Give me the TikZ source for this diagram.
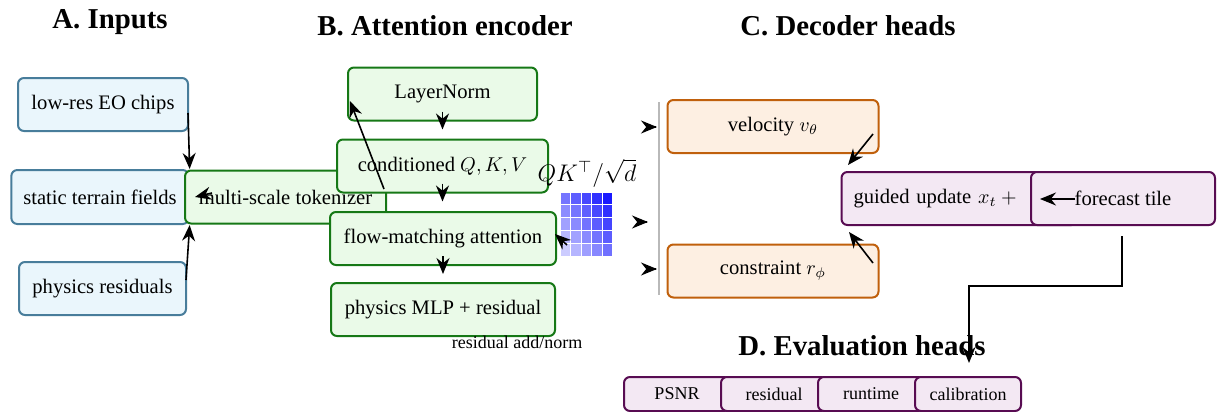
\documentclass[tikz,border=0pt]{standalone}
\usepackage{amsmath}
\usepackage{fontspec}
\setmainfont{LiberationSerif}[Extension=.ttf, UprightFont=*-Regular,
  BoldFont=*-Bold, ItalicFont=*-Italic, BoldItalicFont=*-BoldItalic]
\usepackage{tikz}
\usetikzlibrary{arrows.meta, positioning}
\definecolor{inblue}{RGB}{234, 246, 252}
\definecolor{inborder}{RGB}{72, 125, 155}
\definecolor{encgreen}{RGB}{234, 250, 232}
\definecolor{encborder}{RGB}{22, 120, 22}
\definecolor{decorange}{RGB}{253, 239, 226}
\definecolor{decborder}{RGB}{192, 96, 12}
\definecolor{headpurple}{RGB}{243, 232, 243}
\definecolor{headborder}{RGB}{88, 12, 82}

\begin{document}
\begin{tikzpicture}[
  x=0.5pt, y=-0.5pt,
  panel/.style={font=\Large\bfseries},
  basebox/.style={rectangle, rounded corners=3pt, line width=1pt,
                  minimum height=26.5pt, inner xsep=6pt,
                  font=\fontsize{10.3}{12}\selectfont},
  inbox/.style={basebox, draw=inborder, fill=inblue},
  encbox/.style={basebox, draw=encborder, fill=encgreen},
  decbox/.style={basebox, draw=decborder, fill=decorange, minimum width=105.5pt},
  headbox/.style={basebox, draw=headborder, fill=headpurple},
  evalbox/.style={headbox, minimum width=53pt, minimum height=17pt,
                  font=\small},
  arrow/.style={-{Stealth[length=8pt, width=6.5pt]}, line width=0.8pt, color=black},
  note/.style={font=\small}
]
  \useasboundingbox (0,0) rectangle (1227,412);

  \node[panel] (titleA) at (110,22)  {A. Inputs};
  \node[panel] (titleB) at (445,26)  {B. Attention encoder};
  \node[panel] (titleC) at (848,26)  {C. Decoder heads};
  \node[panel] (titleD) at (862,346) {D. Evaluation heads};

  \node[inbox, minimum width=85pt]   (lowres)  at (103,104.5) {low-res EO chips};
  \node[inbox, minimum width=87pt, minimum height=27pt] (static) at (100,197) {static terrain fields};
  \node[inbox, minimum width=83.5pt] (physres) at (102.5,288.5) {physics residuals};

  \node[encbox, minimum width=100.5pt] (tokenizer) at (285.5,197)  {multi-scale tokenizer};
  \node[encbox, minimum width=94.5pt]  (layernorm) at (442.5,94)   {LayerNorm};
  \node[encbox, minimum width=105.5pt] (qkv)       at (442.5,166)  {conditioned $Q, K, V$};
  \node[encbox, minimum width=113pt]   (flowatt)   at (443,238.5)  {flow-matching attention};
  \node[encbox, minimum width=112pt]   (mlp)       at (443,309.5)  {physics MLP + residual};
  \node[note] (addnorm) at (517,342) {residual add/norm};

  \foreach \r in {0,...,4} {
    \foreach \c in {0,...,4} {
      \pgfmathtruncatemacro\shade{20+9*\c+8.5*(4-\r)}
      \fill[blue!\shade, draw=white, line width=0.5pt]
        (560+10.5*\c,192+12.9*\r) rectangle ++(10.5,12.9);
    }
  }
  \node[font=\large] (scorelbl) at (587,173) {$QK^{\top}/\sqrt{d}$};

  \draw[gray!55, line width=0.6pt] (659,102) -- (659,295);

  \node[decbox] (velocity)   at (773,126.5) {velocity $v_\theta$};
  \node[decbox] (constraint) at (773,271)   {constraint $r_\phi$};

  \node[headbox, minimum width=117.5pt, text width=106pt, align=left] (guided) at (959.5,198.5) {guided update $x_t +{}$};
  \node[headbox, minimum width=92pt] (forecast) at (1123,198.5) {forecast tile};

  \node[evalbox] (psnr)     at (677,394) {PSNR};
  \node[evalbox] (evresid)  at (774,394) {residual};
  \node[evalbox] (runtime)  at (871,394) {runtime};
  \node[evalbox] (calib)    at (968,394) {calibration};

  \coordinate (lowtail)  at (188,113);
  \coordinate (phystail) at (186,280);
  \coordinate (toktail)  at (212,193);
  \coordinate (toktip)   at (195,197);
  \coordinate (lntail)   at (384,189);
  \coordinate (lntip)    at (350,101);
  \coordinate (maptail)  at (567,245);
  \coordinate (maptip)   at (555,234);
  \coordinate (tipv)     at (657,127);
  \coordinate (tipm)     at (648,222);
  \coordinate (tipc)     at (657,269);
  \coordinate (veltail)  at (873,134);
  \coordinate (veltip)   at (848,165);
  \coordinate (contail)  at (873,263);
  \coordinate (contip)   at (849,232);
  \coordinate (fctail)   at (1075,199);
  \coordinate (fctip)    at (1040,199);
  \coordinate (fcdrop)   at (1122,236);
  \coordinate (evaltip)  at (969,363);

  \draw[arrow] (lowtail)  -- (static.north east);
  \draw[arrow] (phystail) -- (static.south east);
  \draw[arrow] (toktail)  -- (toktip);
  \draw[arrow] (lntail)   -- (lntip);
  \foreach \n in {layernorm, qkv, flowatt}
    \draw[arrow] ([yshift=5pt]\n.south) -- ([yshift=-4pt]\n.south);
  \draw[arrow] (maptail) -- (maptip);

  \draw[arrow] ([xshift=-0.5pt]tipv) -- (tipv);
  \draw[arrow] ([xshift=-0.5pt]tipm) -- (tipm);
  \draw[arrow] ([xshift=-0.5pt]tipc) -- (tipc);

  \draw[arrow] (veltail) -- (veltip);
  \draw[arrow] (contail) -- (contip);
  \draw[arrow] (fctail)  -- (fctip);
  \draw[arrow] (fcdrop) -- (1122,286) -- (969,286) -- (evaltip);
\end{tikzpicture}
\end{document}
